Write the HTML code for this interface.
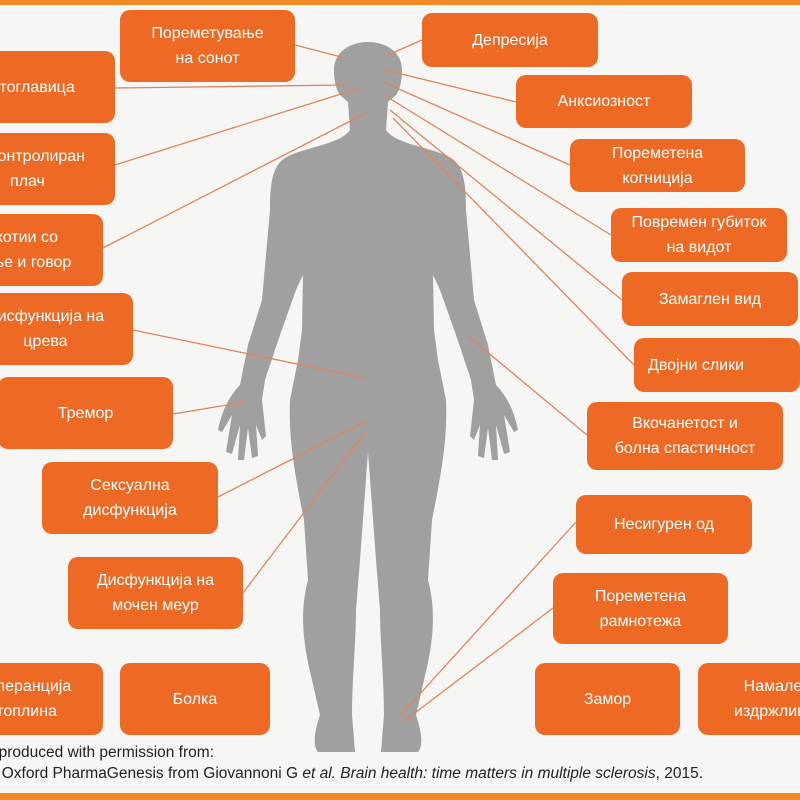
<!DOCTYPE html>
<html><head><meta charset="utf-8"><style>
html,body{margin:0;padding:0}
body{width:800px;height:800px;overflow:hidden;position:relative;background:#f6f6f5;font-family:"Liberation Sans",sans-serif}
.b{position:absolute;background:#ee6a24;border-radius:10px;color:#fff;font-size:16px;line-height:25px;display:flex;align-items:center;justify-content:center;text-align:center;white-space:nowrap;overflow:hidden}
.bar{position:absolute;left:0;width:800px;background:#f08a24}
.t{position:absolute;font-size:15.5px;color:#222;white-space:nowrap}
svg{position:absolute;left:0;top:0}
</style></head><body>
<div class="bar" style="top:0;height:5px"></div>
<div class="bar" style="top:793px;height:7px"></div>
<svg width="800" height="800">
<defs><path id="h" d="M368,42 C350,42 334,52 334,70 C334,80 336,90 340,95 L348,102 L350,130 C340,145 300,148 285,158 C272,166 270,185 270,210 L262,300 L248,345 L240,385 C230,395 222,410 218,430 L222,432 L232,415 L226,452 L232,454 L240,425 L238,460 L244,460 L248,428 L252,458 L258,456 L256,425 L262,440 L266,436 L262,400 L265,380 L280,335 L296,290 L303,275 L302,330 L298,360 L290,400 C288,440 296,480 304,520 L308,580 C300,610 302,640 312,680 L320,715 C315,730 312,745 318,752 L355,752 L352,715 C352,680 356,640 356,610 L360,560 L368,452 Z"/></defs>
<g fill="#a0a0a0"><use href="#h"/><use href="#h" transform="translate(736,0) scale(-1,1)"/></g>
<g stroke="#e0845c" stroke-width="1.3" fill="none">
<line x1="295" y1="45" x2="345" y2="58"/>
<line x1="422" y1="40" x2="388" y2="55"/>
<line x1="115" y1="88" x2="345" y2="85"/>
<line x1="115" y1="165" x2="360" y2="88"/>
<line x1="103" y1="248" x2="366" y2="113"/>
<line x1="133" y1="330" x2="365" y2="378"/>
<line x1="173" y1="414" x2="245" y2="402"/>
<line x1="218" y1="497" x2="365" y2="422"/>
<line x1="243" y1="593" x2="365" y2="432"/>
<line x1="516" y1="102" x2="385" y2="70"/>
<line x1="570" y1="165" x2="383" y2="82"/>
<line x1="611" y1="235" x2="384" y2="95"/>
<line x1="622" y1="300" x2="390" y2="110"/>
<line x1="634" y1="365" x2="393" y2="118"/>
<line x1="587" y1="435" x2="468" y2="336"/>
<line x1="576" y1="522" x2="398" y2="718"/>
<line x1="553" y1="608" x2="403" y2="722"/>
</g></svg>
<div class="b" style="left:120px;top:10px;width:175px;height:72px">Пореметување<br>на сонот</div>
<div class="b" style="left:-60px;top:51px;width:175px;height:72px">Вртоглавица</div>
<div class="b" style="left:-60px;top:133px;width:175px;height:72px">Неконтролиран<br>плач</div>
<div class="b" style="left:-80px;top:214px;width:183px;height:72px">Тешкотии со<br>голтање и говор</div>
<div class="b" style="left:-42px;top:293px;width:175px;height:72px">Дисфункција на<br>црева</div>
<div class="b" style="left:-2px;top:377px;width:175px;height:72px">Тремор</div>
<div class="b" style="left:42px;top:462px;width:176px;height:72px">Сексуална<br>дисфункција</div>
<div class="b" style="left:68px;top:557px;width:175px;height:72px">Дисфункција на<br>мочен меур</div>
<div class="b" style="left:-72px;top:663px;width:175px;height:72px">Интолеранција<br>на топлина</div>
<div class="b" style="left:120px;top:663px;width:150px;height:72px">Болка</div>
<div class="b" style="left:422px;top:13px;width:176px;height:54px">Депресија</div>
<div class="b" style="left:516px;top:75px;width:176px;height:53px">Анксиозност</div>
<div class="b" style="left:570px;top:139px;width:175px;height:53px">Пореметена<br>когниција</div>
<div class="b" style="left:611px;top:208px;width:176px;height:54px">Повремен губиток<br>на видот</div>
<div class="b" style="left:622px;top:272px;width:176px;height:54px">Замаглен вид</div>
<div class="b" style="left:634px;top:338px;width:166px;height:54px;justify-content:flex-start;padding-left:14px;box-sizing:border-box">Двојни слики</div>
<div class="b" style="left:587px;top:402px;width:196px;height:68px">Вкочанетост и<br>болна спастичност</div>
<div class="b" style="left:576px;top:495px;width:176px;height:59px">Несигурен од</div>
<div class="b" style="left:553px;top:573px;width:175px;height:71px">Пореметена<br>рамнотежа</div>
<div class="b" style="left:535px;top:663px;width:145px;height:72px">Замор</div>
<div class="b" style="left:698px;top:663px;width:102px;height:72px;border-radius:10px 0 0 10px;justify-content:flex-start;padding-left:36px;box-sizing:border-box">Намалена<br>издржливост</div>
<div class="t" style="right:586px;top:744px">Reproduced with permission from:</div>
<div class="t" style="right:97px;top:765px">Adapted by Oxford PharmaGenesis from Giovannoni G <i>et al.</i> <i>Brain health: time matters in multiple sclerosis</i>, 2015.</div>
</body></html>
